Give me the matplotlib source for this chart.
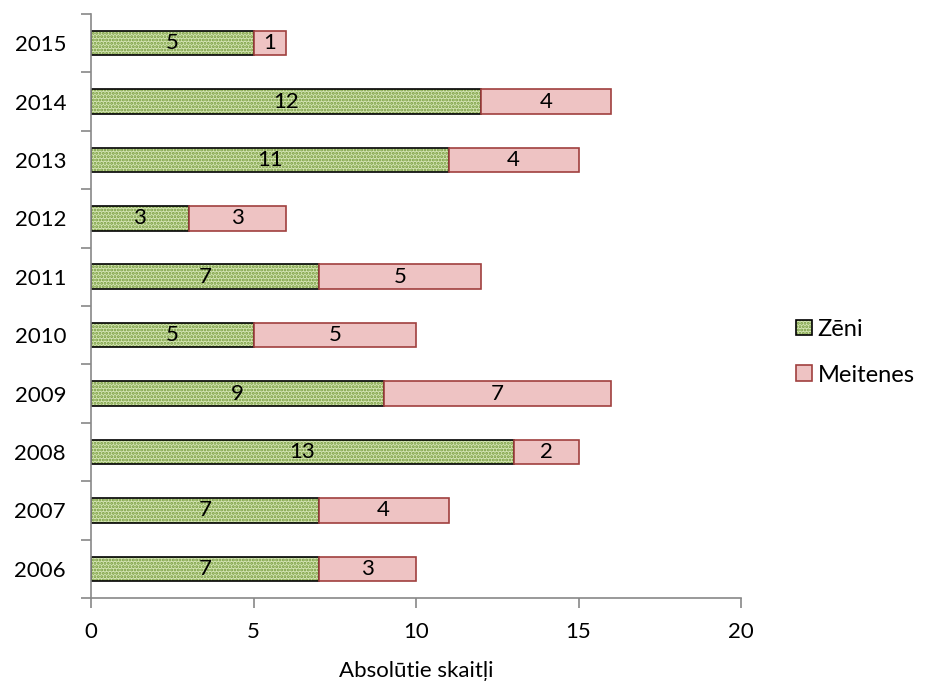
import numpy as np
import matplotlib.pyplot as plt

years = ['2006', '2007', '2008', '2009', '2010', '2011', '2012', '2013', '2014', '2015']
zeni = [7, 7, 13, 9, 5, 7, 3, 11, 12, 5]
meitenes = [3, 4, 2, 7, 5, 5, 3, 4, 4, 1]

plt.rcParams['font.family'] = ['Lato', 'DejaVu Sans']
plt.rcParams['hatch.linewidth'] = 1.4

fig = plt.figure(figsize=(9.25, 6.84), dpi=100)
ax = fig.add_axes([0.0984, 0.1257, 0.7027, 0.854])

y = np.arange(len(years))
h = 0.42

b1 = ax.barh(y, zeni, height=h, color='#d4e4b4', edgecolor='black', linewidth=1.2,
             hatch='.....', label='Zēni')
for p in b1:
    p._hatch_color = (0.45, 0.6, 0.22, 1.0)
b2 = ax.barh(y, meitenes, left=zeni, height=h, color='#eec3c3', edgecolor='#a0403e',
             linewidth=1.2, label='Meitenes')

for i in range(len(years)):
    ax.text(zeni[i] / 2, y[i], str(zeni[i]), ha='center', va='center', fontsize=16)
    ax.text(zeni[i] + meitenes[i] / 2, y[i], str(meitenes[i]), ha='center', va='center', fontsize=16)

ax.set_xlim(0, 20)
ax.set_ylim(-0.5, 9.5)
ax.set_xticks([0, 5, 10, 15, 20])
ax.set_yticks(y)
ax.set_yticklabels(years)
ax.set_yticks(np.arange(-0.5, 10, 1), minor=True)
ax.tick_params(axis='y', which='major', length=0, pad=18, labelsize=16)
ax.tick_params(axis='y', which='minor', length=7, color='#888888', width=1.2)
ax.tick_params(axis='x', length=7, color='#888888', width=1.2, labelsize=16, pad=10)

for s in ['top', 'right']:
    ax.spines[s].set_visible(False)
ax.spines['left'].set_color('#888888')
ax.spines['bottom'].set_color('#888888')
ax.spines['left'].set_linewidth(1.2)
ax.spines['bottom'].set_linewidth(1.2)

ax.set_xlabel('Absolūtie skaitļi', fontsize=16, labelpad=14)

fig.legend(handles=[b1, b2], loc='center left', bbox_to_anchor=(0.861, 0.485), frameon=False,
           fontsize=17, handlelength=0.65, handleheight=0.65, handletextpad=0.25,
           labelspacing=1.05, borderaxespad=0, borderpad=0)

fig.savefig('out.png', dpi=100)
